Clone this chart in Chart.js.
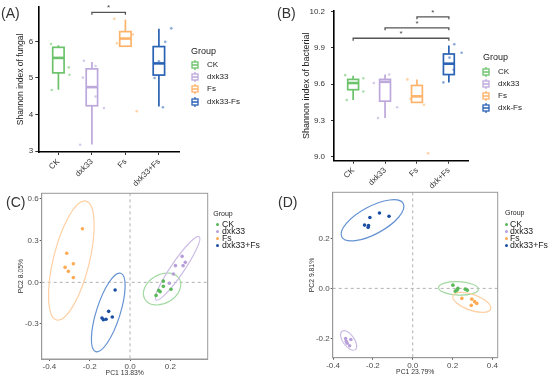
<!DOCTYPE html>
<html>
<head>
<meta charset="utf-8">
<title>Shannon diversity and PCA</title>
<script src="https://cdn.jsdelivr.net/npm/chart.js@4.4.1/dist/chart.umd.min.js"></script>
<style>
  body { margin: 0; background: #fff; font-family: "Liberation Sans", Arial, sans-serif; }
  #page { position: relative; width: 550px; height: 378px; overflow: hidden; }
  canvas { position: absolute; }
  .tag { position: absolute; font-size: 14px; color: #333; line-height: 1; }
  .lg { position: absolute; color: #222; white-space: nowrap; line-height: 1; }
</style>
</head>
<body>
<div id="page">
  <canvas id="chart-a" width="275" height="190" style="left:0;top:0"></canvas>
  <canvas id="chart-b" width="275" height="190" style="left:275px;top:0"></canvas>
  <canvas id="chart-c" width="275" height="193" style="left:0;top:185px"></canvas>
  <canvas id="chart-d" width="275" height="193" style="left:275px;top:185px"></canvas>
  <div class="tag" style="left:1px;top:6px">(A)</div>
  <div class="tag" style="left:277px;top:6px">(B)</div>
  <div class="tag" style="left:6px;top:195px">(C)</div>
  <div class="tag" style="left:278px;top:195px">(D)</div>
</div>
<script>
// ============================================
// DATA
// ============================================

// (A) fungal Shannon index
const fungalLabels = ['CK', 'dxk33', 'Fs', 'dxk33+Fs'];
const fungalLegend = ['CK', 'dxk33', 'Fs', 'dxk33-Fs'];
const fungalTicks = [3, 4, 5, 6];
// [lower whisker, Q1, median, Q3, upper whisker]
const fungalBoxes = [
    [4.68, 5.14, 5.55, 5.84, 5.90],
    [3.18, 4.24, 4.75, 5.25, 5.44],
    [5.87, 5.87, 6.08, 6.27, 6.60],
    [4.22, 5.08, 5.40, 5.86, 6.35]
];
// jittered samples [x, y]
const fungalPoints = [
    [[0.78, 5.93], [1.31, 5.29], [1.33, 5.09], [0.80, 4.67]],
    [[1.76, 5.47], [2.11, 5.33], [1.73, 5.01], [2.11, 4.49], [2.36, 4.18], [1.65, 3.17]],
    [[2.67, 6.62], [3.22, 6.19], [2.75, 5.95], [3.34, 4.09]],
    [[4.37, 6.36], [4.19, 5.99], [4.00, 5.46], [3.87, 5.00], [4.12, 4.20]]
];
// [from group, to group, bracket height]
const fungalSig = [[2, 3, 6.80]];

// (B) bacterial Shannon index
const bacterialLabels = ['CK', 'dxk33', 'Fs', 'dxk+Fs'];
const bacterialLegend = ['CK', 'dxk33', 'Fs', 'dxk-Fs'];
const bacterialTicks = [9.0, 9.3, 9.6, 9.9, 10.2];
const bacterialBoxes = [
    [9.47, 9.555, 9.61, 9.64, 9.67],
    [9.32, 9.46, 9.62, 9.64, 9.68],
    [9.45, 9.45, 9.50, 9.59, 9.64],
    [9.615, 9.68, 9.77, 9.85, 9.92]
];
const bacterialPoints = [
    [[0.75, 9.675], [1.32, 9.65], [1.32, 9.54], [0.80, 9.47]],
    [[1.65, 9.61], [2.13, 9.68], [2.38, 9.41], [1.78, 9.32]],
    [[2.70, 9.64], [2.80, 9.48], [3.22, 9.43], [3.35, 9.03]],
    [[4.17, 9.93], [4.40, 9.86], [4.02, 9.82], [4.15, 9.72], [3.83, 9.615]]
];
const bacterialSig = [[3, 4, 10.157], [2, 4, 10.066], [1, 4, 9.98]];

// (C) / (D) PCA
const pcaGroups = ['CK', 'dxk33', 'Fs', 'dxk33+Fs'];
const pcaTicksC = { x: [-0.4, -0.2, 0.0, 0.2], y: [-0.3, 0.0, 0.3, 0.6] };
const pcaTicksD = { x: [-0.4, -0.2, 0.0, 0.2, 0.4], y: [-0.2, 0.0, 0.2] };

const pcaPointsC = [
    [[0.165, 0.010], [0.165, -0.029], [0.142, -0.058], [0.149, -0.067], [0.203, -0.050], [0.129, -0.094]],
    [[0.258, 0.187], [0.274, 0.144], [0.225, 0.120], [0.263, 0.120], [0.215, 0.060], [0.195, -0.007]],
    [[-0.236, 0.386], [-0.314, 0.209], [-0.281, 0.134], [-0.322, 0.108], [-0.306, 0.079], [-0.281, 0.034]],
    [[-0.074, -0.055], [-0.106, -0.209], [-0.088, -0.250], [-0.132, -0.269], [-0.119, -0.266], [-0.139, -0.257]]
];
// confidence ellipses: [cx, cy, ux, uy, vx, vy] (centre + two conjugate semi-axes)
const pcaEllipsesC = [
    [0.159, -0.048, 0.0853, 0.0734, 0.0362, -0.0888],
    [0.236, 0.101, 0.107, 0.228, 0.027, -0.027],
    [-0.291, 0.157, 0.0727, 0.428, 0.0866, -0.031],
    [-0.108, -0.217, 0.062, 0.282, 0.056, -0.026]
];

const pcaPointsD = [
    [[0.202, 0.013], [0.214, -0.011], [0.227, 0.000], [0.222, -0.007], [0.264, -0.003], [0.274, -0.007]],
    [[-0.337, -0.200], [-0.334, -0.211], [-0.329, -0.219], [-0.311, -0.204], [-0.317, -0.229]],
    [[0.247, -0.040], [0.297, -0.043], [0.311, -0.053], [0.322, -0.060], [0.294, -0.068]],
    [[-0.242, 0.253], [-0.215, 0.283], [-0.222, 0.251], [-0.224, 0.244], [-0.167, 0.301], [-0.119, 0.288]]
];
const pcaEllipsesD = [
    [0.230, 0.000, 0.100, -0.003, 0.000, 0.0267],
    [-0.322, -0.208, 0.0334, -0.0367, 0.023, 0.0133],
    [0.297, -0.056, 0.0945, -0.0264, -0.0131, -0.030],
    [-0.202, 0.272, 0.1543, 0.0669, 0.0327, -0.0481]
];

// ============================================
// STYLE
// ============================================

const boxColors = ['#6cc36c', '#bda8dc', '#fdb36b', '#2a62b4'];
const jitterColors = ['rgba(108,195,108,0.55)', 'rgba(189,168,220,0.6)', 'rgba(253,179,107,0.6)', 'rgba(42,98,180,0.55)'];
const dotColors = ['#58b858', '#b7a0da', '#ffab55', '#1b4fa3'];
const ellipseColors = ['#a3d9a3', '#cdbde6', '#ffd0a3', '#6492d2'];
const BOX_WIDTH = 0.34;
const FONT = '"Liberation Sans", Arial, sans-serif';

// ============================================
// PLUGINS
// ============================================

function boxPlugin(boxes, sigs) {
    return {
        id: 'boxes',
        beforeDatasetsDraw(chart) {
            const { ctx } = chart;
            const xs = chart.scales.x, ys = chart.scales.y;
            boxes.forEach((b, i) => {
                const cx = xs.getPixelForValue(i + 1);
                const half = xs.getPixelForValue(i + 1 + BOX_WIDTH / 2) - cx;
                const [lo, q1, med, q3, hi] = b.map(v => ys.getPixelForValue(v));
                ctx.save();
                ctx.strokeStyle = boxColors[i];
                ctx.lineWidth = 1.7;
                ctx.beginPath();
                ctx.moveTo(cx, hi); ctx.lineTo(cx, q3);
                ctx.moveTo(cx, q1); ctx.lineTo(cx, lo);
                ctx.stroke();
                ctx.fillStyle = '#fff';
                ctx.fillRect(cx - half, q3, half * 2, q1 - q3);
                ctx.strokeRect(cx - half, q3, half * 2, q1 - q3);
                ctx.lineWidth = 2.6;
                ctx.beginPath();
                ctx.moveTo(cx - half, med); ctx.lineTo(cx + half, med);
                ctx.stroke();
                ctx.restore();
            });
        },
        afterDatasetsDraw(chart) {
            const { ctx } = chart;
            const xs = chart.scales.x, ys = chart.scales.y;
            ctx.save();
            ctx.strokeStyle = '#555';
            ctx.lineWidth = 1.3;
            ctx.fillStyle = '#444';
            ctx.font = '8px ' + FONT;
            ctx.textAlign = 'center';
            ctx.textBaseline = 'middle';
            sigs.forEach(([a, b, h]) => {
                const x1 = xs.getPixelForValue(a), x2 = xs.getPixelForValue(b);
                const y = ys.getPixelForValue(h);
                ctx.beginPath();
                ctx.moveTo(x1, y + 2.5); ctx.lineTo(x1, y);
                ctx.lineTo(x2, y); ctx.lineTo(x2, y + 2.5);
                ctx.stroke();
                ctx.fillText('*', (x1 + x2) / 2, y - 4);
            });
            ctx.restore();
        }
    };
}

function pcaPlugin(ellipses) {
    return {
        id: 'pca',
        beforeDatasetsDraw(chart) {
            const { ctx, chartArea } = chart;
            const xs = chart.scales.x, ys = chart.scales.y;
            ctx.save();
            // zero lines
            ctx.strokeStyle = '#b0b0b0';
            ctx.lineWidth = 1;
            ctx.setLineDash([3, 3]);
            const x0 = xs.getPixelForValue(0), y0 = ys.getPixelForValue(0);
            ctx.beginPath();
            ctx.moveTo(x0, chartArea.top); ctx.lineTo(x0, chartArea.bottom);
            ctx.moveTo(chartArea.left, y0); ctx.lineTo(chartArea.right, y0);
            ctx.stroke();
            ctx.setLineDash([]);
            // ellipses
            ellipses.forEach((e, i) => {
                const [cx, cy, ux, uy, vx, vy] = e;
                const px = xs.getPixelForValue(cx), py = ys.getPixelForValue(cy);
                const ax = xs.getPixelForValue(cx + ux) - px, ay = ys.getPixelForValue(cy + uy) - py;
                const bx = xs.getPixelForValue(cx + vx) - px, by = ys.getPixelForValue(cy + vy) - py;
                ctx.save();
                ctx.transform(ax, ay, bx, by, px, py);
                ctx.beginPath();
                ctx.arc(0, 0, 1, 0, Math.PI * 2);
                ctx.restore();
                ctx.strokeStyle = ellipseColors[i];
                ctx.lineWidth = 1.2;
                ctx.stroke();
            });
            ctx.restore();
        },
        afterDraw(chart) {
            const { ctx, chartArea } = chart;
            ctx.save();
            ctx.strokeStyle = '#999';
            ctx.lineWidth = 1;
            ctx.strokeRect(chartArea.left, chartArea.top, chartArea.right - chartArea.left, chartArea.bottom - chartArea.top);
            ctx.restore();
        }
    };
}

// ============================================
// CHARTS
// ============================================

function fixedTicks(values) {
    return scale => { scale.ticks = values.map(v => ({ value: v })); };
}

function boxChart(id, cfg) {
    return new Chart(document.getElementById(id), {
        type: 'scatter',
        data: {
            datasets: cfg.points.map((pts, i) => ({
                data: pts.map(p => ({ x: p[0], y: p[1] })),
                pointRadius: 1.3,
                pointBackgroundColor: jitterColors[i],
                pointBorderWidth: 0
            }))
        },
        options: {
            responsive: false,
            animation: false,
            events: [],
            clip: false,
            layout: { padding: cfg.padding },
            plugins: { legend: { display: false }, tooltip: { enabled: false } },
            scales: {
                x: {
                    type: 'linear',
                    min: 0.4,
                    max: 4.6,
                    afterBuildTicks: fixedTicks([1, 2, 3, 4]),
                    afterFit: s => { s.height = cfg.xHeight; },
                    ticks: {
                        autoSkip: false,
                        minRotation: 45,
                        maxRotation: 45,
                        padding: 2,
                        color: '#333',
                        font: { family: FONT, size: 8 },
                        callback: (v, i) => cfg.labels[i]
                    },
                    grid: { drawOnChartArea: false, tickLength: 3, color: '#333' },
                    border: { color: '#000', width: 1.6 }
                },
                y: {
                    min: cfg.yMin,
                    max: cfg.yMax,
                    afterBuildTicks: fixedTicks(cfg.ticks),
                    afterFit: s => { s.width = cfg.yWidth; },
                    ticks: {
                        padding: cfg.tickPad,
                        color: '#333',
                        font: { family: FONT, size: 8 },
                        callback: v => cfg.fmt(v)
                    },
                    grid: { drawOnChartArea: false, tickLength: 3, color: '#333' },
                    border: { color: '#000', width: 1.6 },
                    title: {
                        display: true,
                        text: cfg.title,
                        color: '#222',
                        padding: 0,
                        font: { family: FONT, size: cfg.titleSize }
                    }
                }
            }
        },
        plugins: [boxPlugin(cfg.boxes, cfg.sigs)]
    });
}

function pcaChart(id, cfg) {
    return new Chart(document.getElementById(id), {
        type: 'scatter',
        data: {
            datasets: cfg.points.map((pts, i) => ({
                data: pts.map(p => ({ x: p[0], y: p[1] })),
                pointRadius: 1.8,
                pointBackgroundColor: dotColors[i],
                pointBorderWidth: 0
            }))
        },
        options: {
            responsive: false,
            animation: false,
            events: [],
            layout: { padding: cfg.padding },
            plugins: { legend: { display: false }, tooltip: { enabled: false } },
            scales: {
                x: {
                    min: cfg.xMin,
                    max: cfg.xMax,
                    afterBuildTicks: fixedTicks(cfg.ticks.x),
                    afterFit: s => { s.height = cfg.xHeight; },
                    ticks: {
                        maxRotation: 0,
                        autoSkip: false,
                        padding: 1,
                        color: '#4d4d4d',
                        font: { family: FONT, size: 8 },
                        callback: v => v.toFixed(1)
                    },
                    grid: { drawOnChartArea: false, tickLength: 2, color: '#555' },
                    border: { color: '#999', width: 1 },
                    title: {
                        display: true,
                        text: cfg.xTitle,
                        color: '#333',
                        padding: 0,
                        font: { family: FONT, size: 6.8 }
                    }
                },
                y: {
                    min: cfg.yMin,
                    max: cfg.yMax,
                    afterBuildTicks: fixedTicks(cfg.ticks.y),
                    afterFit: s => { s.width = cfg.yWidth; },
                    ticks: {
                        padding: 1,
                        color: '#4d4d4d',
                        font: { family: FONT, size: 8 },
                        callback: v => v.toFixed(1)
                    },
                    grid: { drawOnChartArea: false, tickLength: 2, color: '#555' },
                    border: { color: '#999', width: 1 },
                    title: {
                        display: true,
                        text: cfg.yTitle,
                        color: '#333',
                        padding: 0,
                        font: { family: FONT, size: 6.8 }
                    }
                }
            }
        },
        plugins: [pcaPlugin(cfg.ellipses)]
    });
}

boxChart('chart-a', {
    labels: fungalLabels, ticks: fungalTicks, boxes: fungalBoxes, points: fungalPoints, sigs: fungalSig,
    yMin: 2.973, yMax: 6.95, fmt: v => String(v),
    title: 'Shannon index of fungal', titleSize: 8.5,
    padding: { left: 16, top: 2.7, right: 96, bottom: 0 }, yWidth: 22.3, xHeight: 38, tickPad: 2
});

boxChart('chart-b', {
    labels: bacterialLabels, ticks: bacterialTicks, boxes: bacterialBoxes, points: bacterialPoints, sigs: bacterialSig,
    yMin: 8.968, yMax: 10.207, fmt: v => v.toFixed(1),
    title: 'Shannon index of bacterial', titleSize: 9,
    padding: { left: 26.6, top: 6, right: 82, bottom: 0 }, yWidth: 32.4, xHeight: 29.3, tickPad: 6
});

pcaChart('chart-c', {
    points: pcaPointsC, ellipses: pcaEllipsesC, ticks: pcaTicksC,
    xMin: -0.438, xMax: 0.385, yMin: -0.552, yMax: 0.641,
    xTitle: 'PC1 13.83%', yTitle: 'PC2 8.05%',
    padding: { left: 16.6, top: 8.3, right: 67.3, bottom: 1.2 }, yWidth: 25.1, xHeight: 17.8
});

pcaChart('chart-d', {
    points: pcaPointsD, ellipses: pcaEllipsesD, ticks: pcaTicksD,
    xMin: -0.402, xMax: 0.427, yMin: -0.277, yMax: 0.384,
    xTitle: 'PC1 23.79%', yTitle: 'PC2 9.81%',
    padding: { left: 32.6, top: 7.3, right: 52.3, bottom: 1.9 }, yWidth: 25.1, xHeight: 18.4
});

// ============================================
// LEGENDS
// ============================================

const page = document.getElementById('page');

function addText(text, x, cy, size) {
    const el = document.createElement('div');
    el.className = 'lg';
    el.textContent = text;
    el.style.left = x + 'px';
    el.style.top = (cy - size / 2) + 'px';
    el.style.fontSize = size + 'px';
    page.appendChild(el);
}

function boxIcon(color, cx, cy) {
    const ns = 'http://www.w3.org/2000/svg';
    const svg = document.createElementNS(ns, 'svg');
    svg.setAttribute('width', 8);
    svg.setAttribute('height', 10);
    svg.style.cssText = `position:absolute;left:${cx - 4}px;top:${cy - 5}px`;
    svg.innerHTML = `<line x1="4" y1="0" x2="4" y2="10" stroke="${color}" stroke-width="1.3"/>` +
        `<rect x="1" y="2" width="6" height="6" fill="#fff" stroke="${color}" stroke-width="1.3"/>` +
        `<line x1="1" y1="5" x2="7" y2="5" stroke="${color}" stroke-width="1.5"/>`;
    page.appendChild(svg);
}

function dotIcon(color, cx, cy) {
    const el = document.createElement('div');
    el.style.cssText = `position:absolute;left:${cx - 1.5}px;top:${cy - 1.5}px;width:3px;height:3px;border-radius:50%;background:${color}`;
    page.appendChild(el);
}

function boxLegend(names, x, titleY, iconX, textX, y0, step) {
    addText('Group', x, titleY, 9);
    names.forEach((name, i) => {
        boxIcon(boxColors[i], iconX, y0 + i * step);
        addText(name, textX, y0 + i * step, 8);
    });
}

function dotLegend(names, x, titleY, dotX, textX, y0, step) {
    addText('Group', x, titleY, 7);
    names.forEach((name, i) => {
        dotIcon(dotColors[i], dotX, y0 + i * step);
        addText(name, textX, y0 + i * step, 8.7);
    });
}

boxLegend(fungalLegend, 191, 51, 195, 207, 65, 12.2);
boxLegend(bacterialLegend, 483, 57.3, 486, 498, 71.7, 12);
dotLegend(pcaGroups, 213.3, 213.3, 217, 222, 224.7, 6.9);
dotLegend(pcaGroups, 505, 212.7, 506.5, 510, 224, 7);
</script>
</body>
</html>
